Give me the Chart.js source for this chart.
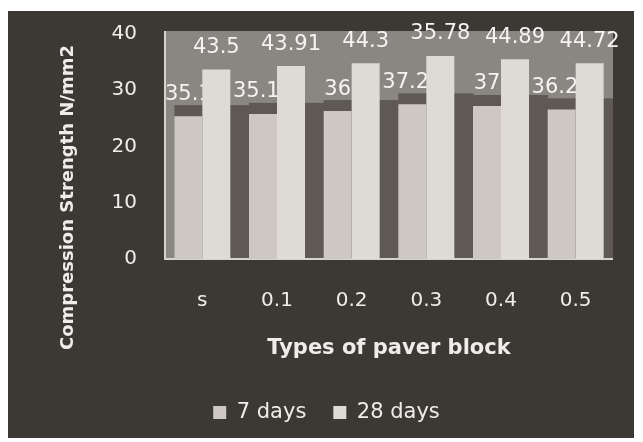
<!DOCTYPE html>
<html>
<head>
<meta charset="utf-8">
<title>Compression Strength</title>
<script src="https://cdn.jsdelivr.net/npm/chart.js"></script>
<style>
  body { margin: 0; padding: 0; background: #fff; overflow: hidden; }
  #caption { position: absolute; left: 0; top: 0; width: 643px; height: 11px; overflow: hidden; }
  #caption span {
    position: absolute; left: 86px; top: -28px;
    font-family: 'Liberation Serif', serif; font-weight: bold;
    font-size: 25px; line-height: 25px; color: #111; white-space: nowrap;
  }
  #box { position: absolute; left: 8px; top: 11px; width: 626px; height: 427px; background: #3c3834; }
</style>
</head>
<body>
<div id="caption"><span>Compression Strength</span></div>
<div id="box"><canvas id="chart" width="626" height="427"></canvas></div>

<script>
const categories = ['s', '0.1', '0.2', '0.3', '0.4', '0.5'];
const days7 = [25.4, 25.8, 26.3, 27.5, 27.2, 26.6];
const days28 = [33.7, 34.3, 34.8, 36.1, 35.5, 34.8];
const labels7 = ['35.1', '35.15', '36', '37.25', '37', '36.25'];
const labels28 = ['43.5', '43.91', '44.3', '35.78', '44.89', '44.72'];
const yTicks = [0, 10, 20, 30, 40];

const textColor = '#efedea';
Chart.defaults.font.family = "'DejaVu Sans', sans-serif";
Chart.defaults.color = textColor;

function drawTags(chart, index, tags) {
  const { ctx } = chart;
  ctx.save();
  ctx.font = "21px 'DejaVu Sans'";
  ctx.fillStyle = '#f4f4f2';
  ctx.textAlign = 'center';
  ctx.textBaseline = 'middle';
  chart.getDatasetMeta(index).data.forEach((el, i) => ctx.fillText(tags[i], el.x, el.y - 22));
  ctx.restore();
}

// plot wall, bar shadows, value labels and the rotated y title
const paper = {
  id: 'paper',
  afterLayout(chart) {
    chart.legend.left += 16;
    chart.legend.right += 16;
  },
  beforeDatasetsDraw(chart) {
    const { ctx, chartArea: a, scales: { y } } = chart;
    ctx.save();
    ctx.fillStyle = '#8a8681';
    ctx.fillRect(a.left, a.top - 3, a.right - a.left, a.bottom - a.top + 3);
    const m0 = chart.getDatasetMeta(0), m1 = chart.getDatasetMeta(1);
    const base = y.getPixelForValue(0);
    ctx.fillStyle = '#5e5954';
    m0.data.forEach((b, i) => {
      const c = m1.data[i];
      const l = b.x - b.width / 2;
      const r = Math.min(c.x + c.width / 2 + 19, a.right);
      ctx.fillRect(l, b.y - 11, r - l, base - b.y + 11);
    });
    ctx.strokeStyle = '#d6d2cd';
    ctx.lineWidth = 2;
    ctx.beginPath();
    ctx.moveTo(a.left, a.top - 3);
    ctx.lineTo(a.left, a.bottom);
    ctx.lineTo(a.right, a.bottom);
    ctx.stroke();
    ctx.restore();
    // 7-day numbers sit behind the 28-day bars
    drawTags(chart, 0, labels7);
  },
  afterDatasetsDraw(chart) {
    drawTags(chart, 1, labels28);
  },
  afterDraw(chart) {
    const { ctx } = chart;
    ctx.save();
    ctx.translate(60, 186.5);
    ctx.rotate(-Math.PI / 2);
    ctx.font = "bold 18px 'DejaVu Sans'";
    ctx.fillStyle = textColor;
    ctx.textAlign = 'center';
    ctx.textBaseline = 'middle';
    ctx.fillText('Compression Strength N/mm2', 0, 0);
    ctx.restore();
  }
};

new Chart(document.getElementById('chart'), {
  type: 'bar',
  data: {
    labels: categories,
    datasets: [
      { label: '7 days', data: days7, backgroundColor: '#cdc8c3' },
      { label: '28 days', data: days28, backgroundColor: '#dedad5' }
    ]
  },
  options: {
    responsive: false,
    animation: false,
    categoryPercentage: 0.75,
    barPercentage: 1,
    layout: { padding: { top: 23, right: 21, bottom: 5, left: 0 } },
    plugins: {
      legend: {
        position: 'bottom',
        labels: {
          boxWidth: 13, boxHeight: 13, padding: 27,
          color: textColor,
          font: { size: 21 }
        }
      },
      tooltip: { enabled: false }
    },
    scales: {
      x: {
        grid: { display: false, drawTicks: false },
        border: { display: false },
        ticks: { padding: 30, font: { size: 20 }, color: textColor },
        title: {
          display: true,
          text: 'Types of paver block',
          color: textColor,
          font: { size: 21, weight: 'bold' },
          padding: { top: 0, bottom: 14 }
        },
        afterFit(scale) { scale.height = 116; }
      },
      y: {
        min: 0,
        max: 40,
        grid: { display: false, drawTicks: false },
        border: { display: false },
        afterBuildTicks(scale) { scale.ticks = yTicks.map(v => ({ value: v })); },
        ticks: { padding: 28, font: { size: 20 }, color: textColor },
        afterFit(scale) {
          scale.width = 157;
          scale.paddingTop = 0;
          scale.paddingBottom = 0;
        }
      }
    }
  },
  plugins: [paper]
});
</script>
</body>
</html>
